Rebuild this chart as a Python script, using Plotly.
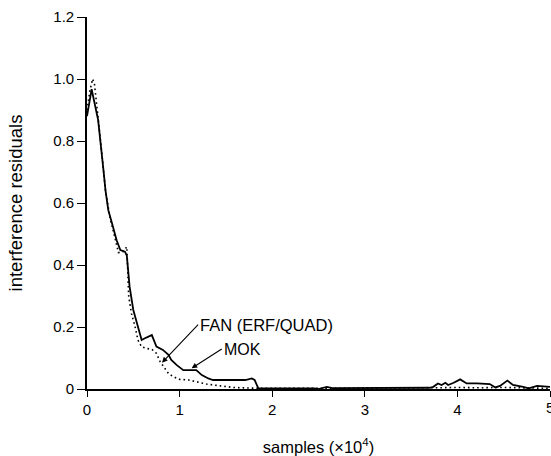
import plotly.graph_objects as go

# MOK (solid)
mok_x = [0, 0.05, 0.12, 0.16, 0.18, 0.20, 0.23, 0.27, 0.32, 0.36, 0.41, 0.43, 0.46, 0.50, 0.55, 0.59,
         0.62, 0.66, 0.70, 0.75, 0.82, 0.88, 0.91, 0.97, 1.04, 1.18, 1.24, 1.31, 1.36, 1.58, 1.71, 1.78,
         1.81, 1.85, 1.9, 2.2, 2.45, 2.5, 2.55, 2.59, 2.65, 3.0, 3.4, 3.7, 3.74, 3.79, 3.83, 3.87, 3.90,
         3.96, 4.03, 4.10, 4.21, 4.35, 4.41, 4.46, 4.54, 4.60, 4.71, 4.77, 4.86, 4.96, 5.0]
mok_y = [0.88, 0.967, 0.868, 0.74, 0.70, 0.64, 0.577, 0.535, 0.48, 0.448, 0.443, 0.43, 0.33, 0.255, 0.2,
         0.158, 0.163, 0.169, 0.174, 0.137, 0.126, 0.11, 0.094, 0.077, 0.061, 0.061, 0.045, 0.034, 0.029,
         0.029, 0.029, 0.034, 0.029, 0.002, 0.002, 0.003, 0.002, 0.0, 0.003, 0.007, 0.003, 0.003, 0.003,
         0.004, 0.007, 0.018, 0.013, 0.02, 0.013, 0.02, 0.031, 0.018, 0.018, 0.016, 0.005, 0.01, 0.027,
         0.013, 0.007, 0.002, 0.01, 0.007, 0.007]

# FAN (ERF/QUAD) (dotted)
fan_x = [0, 0.03, 0.06, 0.08, 0.10, 0.13, 0.16, 0.20, 0.25, 0.30, 0.34, 0.39, 0.43, 0.45, 0.48, 0.52,
         0.55, 0.59, 0.64, 0.70, 0.75, 0.79, 0.84, 0.88, 0.93, 1.0, 1.1, 1.22, 1.29, 1.44, 1.58, 1.75,
         1.9, 2.5, 3.0, 3.5, 3.8, 4.0, 4.2, 4.5, 4.7, 5.0]
fan_y = [0.90, 0.96, 1.0, 0.985, 0.93, 0.85, 0.76, 0.64, 0.55, 0.49, 0.44, 0.443, 0.459, 0.30, 0.244,
         0.2, 0.158, 0.136, 0.131, 0.128, 0.115, 0.088, 0.067, 0.05, 0.04, 0.031, 0.029, 0.02, 0.016,
         0.01, 0.005, 0.003, 0.002, 0.002, 0.002, 0.002, 0.004, 0.005, 0.004, 0.005, 0.003, 0.002]

y_ticks = [0, 0.2, 0.4, 0.6, 0.8, 1.0, 1.2]
y_ticktext = ["0", "0.2", "0.4", "0.6", "0.8", "1.0", "1.2"]
x_ticks = [0, 1, 2, 3, 4, 5]
x_ticktext = ["0", "1", "2", "3", "4", "5"]

FONT = "Liberation Sans, Arial, sans-serif"

fig = go.Figure()
fig.add_trace(go.Scatter(x=fan_x, y=fan_y, mode="lines",
                         line=dict(color="black", width=1.6, dash="1.6px,3px"),
                         showlegend=False, cliponaxis=False))
fig.add_trace(go.Scatter(x=mok_x, y=mok_y, mode="lines",
                         line=dict(color="black", width=1.8),
                         showlegend=False, cliponaxis=False))

# labels with arrows (tail at the left-middle of each label)
fig.add_annotation(x=0.81, y=0.085, ax=1.20, ay=0.208, xref="x", yref="y",
                   axref="x", ayref="y", text="FAN (ERF/QUAD)", showarrow=True,
                   xanchor="left", yanchor="middle",
                   arrowhead=2, arrowsize=1, arrowwidth=1.1, arrowcolor="black",
                   font=dict(family=FONT, size=16.5, color="black"))
fig.add_annotation(x=1.13, y=0.067, ax=1.455, ay=0.129, xref="x", yref="y",
                   axref="x", ayref="y", text="MOK", showarrow=True,
                   xanchor="left", yanchor="middle",
                   arrowhead=2, arrowsize=1, arrowwidth=1.1, arrowcolor="black",
                   font=dict(family=FONT, size=16, color="black"))

# last x tick label (plotly drops it because it overflows the page edge)
fig.add_annotation(x=x_ticks[-1], y=0, xref="x", yref="paper", text=x_ticktext[-1],
                   showarrow=False, xanchor="center", yanchor="top", yshift=-8,
                   font=dict(family=FONT, size=15, color="black"))

fig.update_layout(
    width=551, height=456,
    margin=dict(l=87, r=1, t=17, b=67),
    plot_bgcolor="white", paper_bgcolor="white",
    font=dict(family=FONT, size=15, color="black"),
    xaxis=dict(range=[0, 5], tickvals=x_ticks, ticktext=x_ticktext,
               showgrid=False, zeroline=False, showline=True, linecolor="black",
               linewidth=1.6, ticks="outside", ticklen=6, tickwidth=1.3, tickcolor="black",
               tickfont=dict(size=15),
               title=dict(text="samples (×10<sup>4</sup>)", font=dict(size=16.5), standoff=25)),
    yaxis=dict(range=[0, 1.2], tickvals=y_ticks, ticktext=y_ticktext,
               showgrid=False, zeroline=False, showline=True, linecolor="black",
               linewidth=1.6, ticks="outside", ticklen=8, tickwidth=1.3, tickcolor="black",
               tickfont=dict(size=15),
               title=dict(text="interference residuals", font=dict(size=18.5), standoff=26)),
)

fig.write_html("out.html")
